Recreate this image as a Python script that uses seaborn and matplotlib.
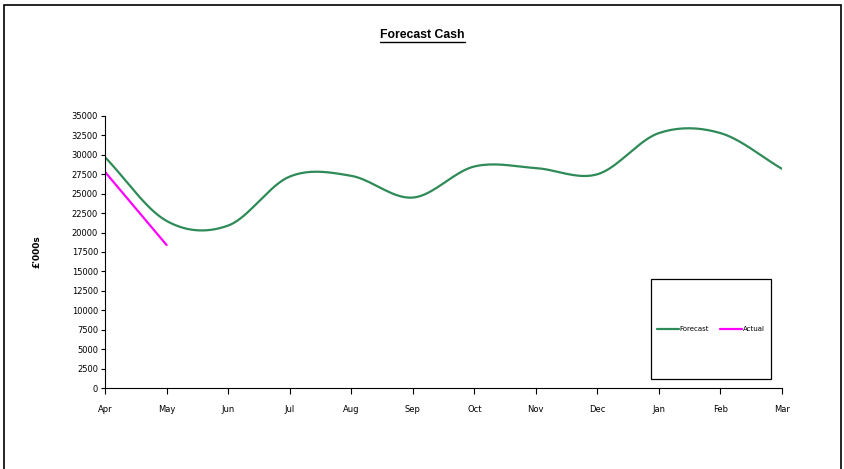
import numpy as np
import pandas as pd
import matplotlib
matplotlib.use("Agg")
import matplotlib.pyplot as plt
import seaborn as sns
from matplotlib.patches import Rectangle

months = ["Apr", "May", "Jun", "Jul", "Aug", "Sep", "Oct", "Nov", "Dec", "Jan", "Feb", "Mar"]
forecast = [29700, 21500, 20900, 27200, 27300, 24500, 28500, 28300, 27500, 32800, 32800, 28200]
actual_months = ["Apr", "May"]
actual = [27800, 18400]

FORECAST_COLOR = "#2e8b57"
ACTUAL_COLOR = "#ff00ff"


def smooth(x, y, steps=20):
    # Excel-style smoothed line (Catmull-Rom through the data points)
    x = np.asarray(x, float)
    y = np.asarray(y, float)
    px = np.concatenate([[2 * x[0] - x[1]], x, [2 * x[-1] - x[-2]]])
    py = np.concatenate([[2 * y[0] - y[1]], y, [2 * y[-1] - y[-2]]])
    xs, ys = [], []
    t = np.linspace(0, 1, steps, endpoint=False)
    for i in range(1, len(px) - 2):
        for p, out in ((px, xs), (py, ys)):
            p0, p1, p2, p3 = p[i - 1], p[i], p[i + 1], p[i + 2]
            out.extend(0.5 * (2 * p1 + (-p0 + p2) * t
                              + (2 * p0 - 5 * p1 + 4 * p2 - p3) * t ** 2
                              + (-p0 + 3 * p1 - 3 * p2 + p3) * t ** 3))
    xs.append(x[-1])
    ys.append(y[-1])
    return np.array(xs), np.array(ys)


sns.set_style("white")
plt.rcParams["font.family"] = ["DejaVu Sans"]
plt.rcParams["text.color"] = "black"
plt.rcParams["axes.labelcolor"] = "black"
plt.rcParams["xtick.color"] = "black"
plt.rcParams["ytick.color"] = "black"

fig = plt.figure(figsize=(8.45, 4.69), dpi=100)
ax = fig.add_axes([0.1243, 0.1727, 0.8011, 0.58])

idx = np.arange(len(months))
sx, sy = smooth(idx, forecast)
sns.lineplot(x=sx, y=sy, ax=ax, color=FORECAST_COLOR, linewidth=1.6,
             label="Forecast", sort=False, estimator=None)
actual_idx = [months.index(m) for m in actual_months]
sns.lineplot(x=actual_idx, y=actual, ax=ax, color=ACTUAL_COLOR, linewidth=1.6,
             label="Actual", sort=False, estimator=None)

ax.set_xlim(0, len(months) - 1)
ax.set_ylim(0, 35000)
ax.set_yticks(np.arange(0, 35001, 2500))
ax.set_xticks(idx)
ax.set_xticklabels(months)
ax.tick_params(axis="y", labelsize=6, length=3, direction="out", left=True, pad=2)
ax.tick_params(axis="x", labelsize=6, length=4, direction="out", bottom=True, pad=8)
for side in ["top", "right"]:
    ax.spines[side].set_visible(False)
for side in ["left", "bottom"]:
    ax.spines[side].set_color("black")
    ax.spines[side].set_linewidth(0.8)

ax.set_ylabel("£'000s", fontsize=6.5, fontweight="bold", labelpad=22)

box = (0.8065, 0.033, 0.177, 0.367)
leg = ax.legend(loc="center", bbox_to_anchor=box,
                ncol=2, fontsize=5, frameon=False, handlelength=3.2,
                handletextpad=0.1, columnspacing=1.6, borderaxespad=0)
ax.add_patch(Rectangle(box[:2], box[2], box[3], transform=ax.transAxes,
                       fill=False, edgecolor="black", linewidth=0.9, clip_on=False))

t = fig.text(0.5, 0.925, "Forecast Cash", ha="center", va="center",
             fontsize=8.8, fontweight="bold", family=["Liberation Sans", "DejaVu Sans"])
fig.canvas.draw()
bb = t.get_window_extent().transformed(fig.transFigure.inverted())
fig.add_artist(plt.Line2D([bb.x0, bb.x1], [bb.y0 - 0.002, bb.y0 - 0.002],
                          transform=fig.transFigure, color="black", linewidth=1.0))

fig.add_artist(Rectangle((0.005, -0.01), 0.99, 1.0, transform=fig.transFigure,
                         fill=False, edgecolor="black", linewidth=1.2))

fig.savefig("out.png", dpi=100)
